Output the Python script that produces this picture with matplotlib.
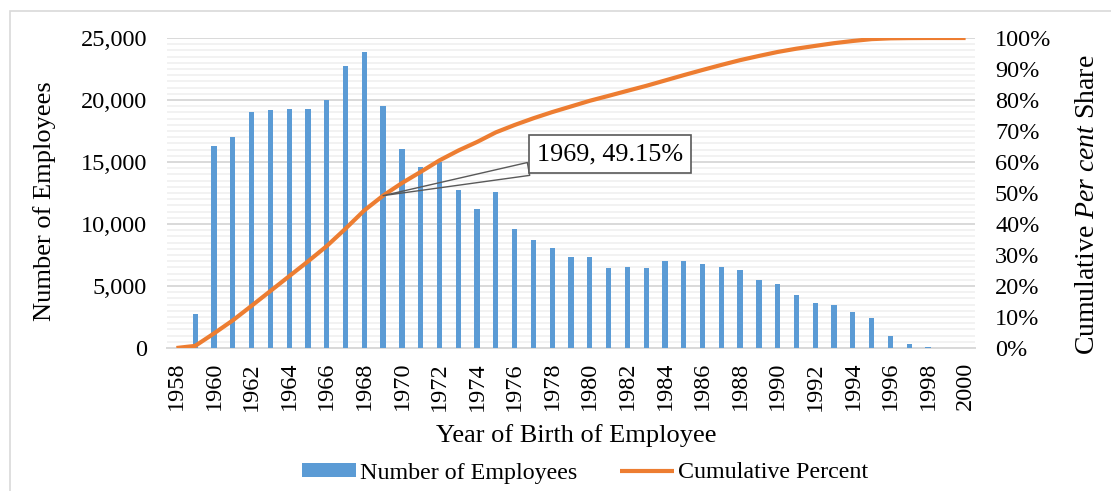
import matplotlib
matplotlib.use("Agg")
import matplotlib.pyplot as plt
from matplotlib.ticker import MultipleLocator, FuncFormatter, PercentFormatter
from matplotlib.patches import Rectangle

plt.rcParams['font.family'] = ['Liberation Serif', 'DejaVu Serif']
plt.rcParams['mathtext.fontset'] = 'custom'
plt.rcParams['mathtext.rm'] = 'Liberation Serif'
plt.rcParams['mathtext.it'] = 'Liberation Serif:italic'

years = list(range(1958, 2001))
employees = [0, 2740, 16260, 17020, 19000, 19220, 19300, 19300, 20000, 22710,
             23840, 19540, 16070, 14600, 14970, 12770, 11230, 12550, 9620, 8730,
             8070, 7360, 7360, 6450, 6560, 6450, 6980, 7010, 6740, 6560,
             6260, 5450, 5190, 4300, 3650, 3490, 2870, 2440, 990, 350,
             105, 0, 0]
cum_pct = [0.0, 0.68, 4.70, 8.91, 13.61, 18.37, 23.15, 27.92, 32.87, 38.49,
           44.39, 49.15, 53.20, 56.81, 60.52, 63.68, 66.46, 69.56, 71.94, 74.11,
           76.10, 77.92, 79.75, 81.34, 82.96, 84.56, 86.29, 88.02, 89.69, 91.31,
           92.86, 94.21, 95.50, 96.56, 97.46, 98.33, 99.04, 99.64, 99.89, 99.97,
           100.0, 100.0, 100.0]
annot_year = 1969
annot_value = 49.15

W, H = 1111, 491
L, R, T, B = 167, 975, 38, 348
fig = plt.figure(figsize=(W / 100, H / 100), dpi=100)
fig.patches.append(Rectangle((10 / W, -0.2), 1.2, (H - 11) / H + 0.2,
                             transform=fig.transFigure, fill=False,
                             ec='#d9d9d9', lw=1.2))

ax = fig.add_axes([L / W, 1 - B / H, (R - L) / W, (B - T) / H])
bar_color = '#5B9BD5'
line_color = '#ED7D31'

def ax_x(px):
    return (px - L) / (R - L)

def ax_y(py):
    return (B - py) / (B - T)

ax.bar(years, employees, width=0.28, color=bar_color, zorder=3,
       label='Number of Employees')
ax.set_xlim(years[0] - 0.5, years[-1] + 0.5)
ax.set_ylim(0, 25000)
ax.yaxis.set_major_locator(MultipleLocator(5000))
ax.yaxis.set_minor_locator(MultipleLocator(500))
ax.yaxis.set_major_formatter(FuncFormatter(lambda v, p: f'{int(v):,}'))
ax.grid(axis='y', which='major', color='#d9d9d9', lw=1.4, zorder=1)
ax.grid(axis='y', which='minor', color='#f0f0f0', lw=1.2, zorder=0)
ax.set_axisbelow(True)
for s in ['top', 'left', 'right']:
    ax.spines[s].set_visible(False)
ax.spines['bottom'].set_color('#d9d9d9')
ax.spines['bottom'].set_linewidth(1.4)
ax.set_xticks(years[::2])
ax.set_xticklabels([str(y) for y in years[::2]], rotation=90)
ax.tick_params(axis='both', which='both', length=0, labelsize=17.5)
ax.tick_params(axis='x', pad=10)
ax.tick_params(axis='y', pad=14.4)
ax.set_ylabel('Number of Employees', fontsize=19, va='center')
ax.yaxis.set_label_coords(ax_x(45), ax_y(201))
ax.set_xlabel('Year of Birth of Employee', fontsize=19, va='center')
ax.xaxis.set_label_coords(ax_x(576), ax_y(436))

ax2 = ax.twinx()
ax2.plot(years, cum_pct, color=line_color, lw=3.0, solid_capstyle='butt',
         label='Cumulative Percent', zorder=4)
ax2.set_ylim(0, 100)
ax2.yaxis.set_major_locator(MultipleLocator(10))
ax2.yaxis.set_major_formatter(PercentFormatter(decimals=0))
for s in ['top', 'left', 'right', 'bottom']:
    ax2.spines[s].set_visible(False)
ax2.tick_params(axis='y', length=0, labelsize=17.5, pad=14.4)
ax2.set_ylabel(r'Cumulative $\mathit{Per\ cent}$ Share', fontsize=20, va='center')
ax2.yaxis.set_label_coords(ax_x(1088), ax_y(205))

ax2.annotate(f'{annot_year}, {annot_value:.2f}%', xy=(annot_year, annot_value),
             xytext=(610, H - 154), textcoords='figure pixels',
             ha='center', va='center', fontsize=18.8,
             bbox=dict(boxstyle='square,pad=0.3', fc='white', ec='#595959', lw=1.2),
             arrowprops=dict(arrowstyle='wedge,tail_width=0.5', fc='none',
                             ec='#595959', lw=1.0, shrinkA=0, shrinkB=0),
             zorder=6)

h1, l1 = ax.get_legend_handles_labels()
h2, l2 = ax2.get_legend_handles_labels()
fig.legend(h1 + h2, l1 + l2, loc='center', bbox_to_anchor=(585 / W, 1 - 473 / H),
           ncol=2, frameon=False, fontsize=17.3, handlelength=2.25,
           handletextpad=0.17, columnspacing=1.75, handleheight=0.55,
           borderpad=0, borderaxespad=0)

fig.savefig('out.png', dpi=100)
